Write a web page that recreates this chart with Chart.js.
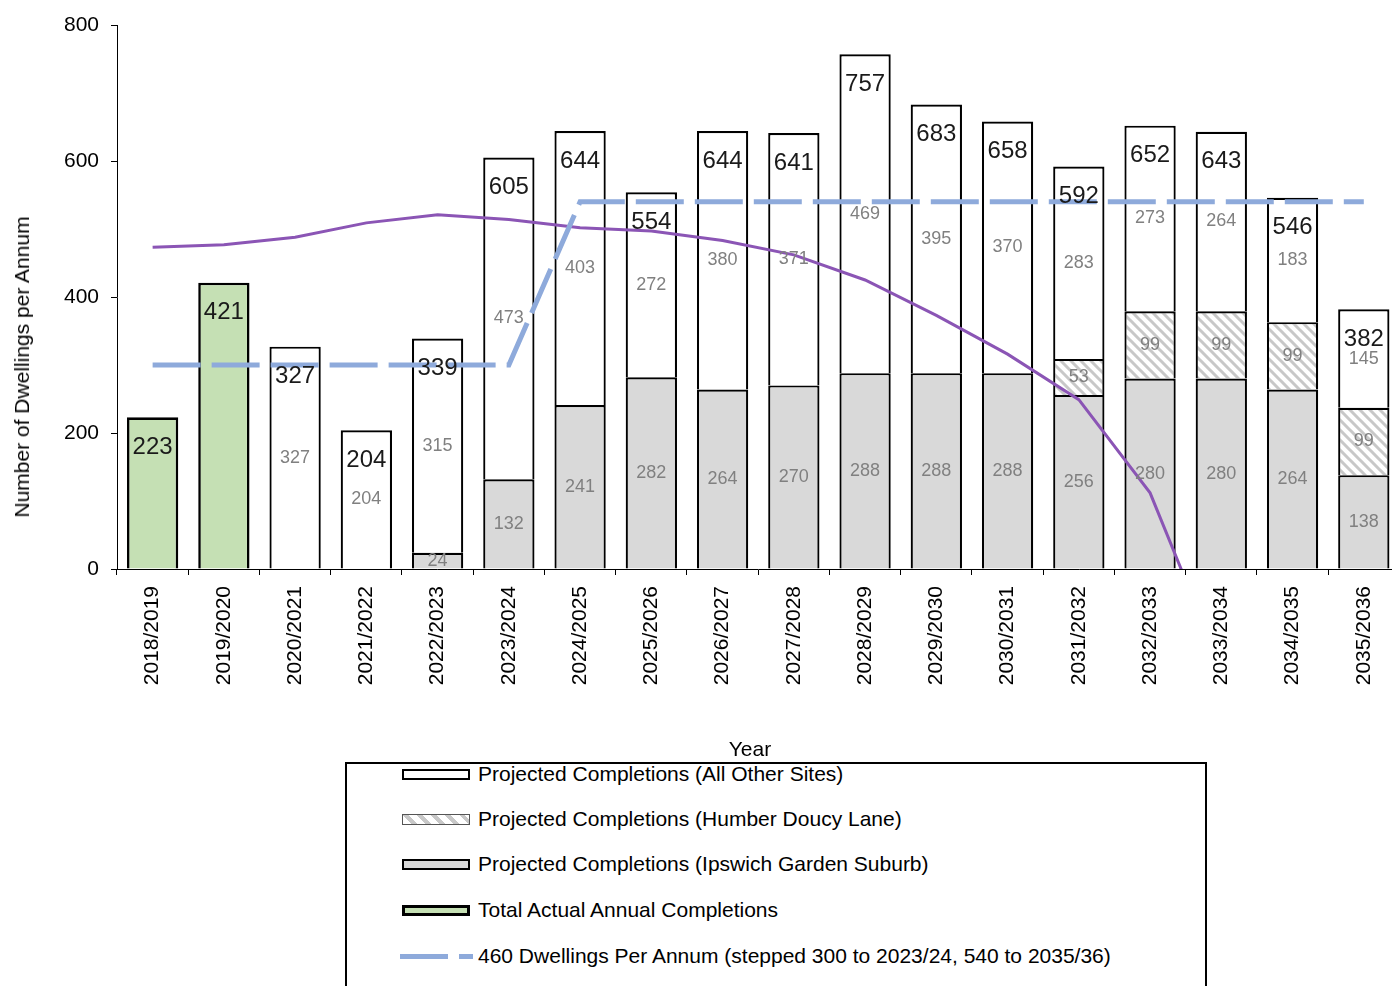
<!DOCTYPE html>
<html>
<head>
<meta charset="utf-8">
<script src="https://cdn.jsdelivr.net/npm/chart.js@4.4.1/dist/chart.umd.min.js"></script>
<style>
html,body{margin:0;padding:0;overflow:hidden;background:#fff;width:1392px;height:986px;}
#wrap{position:absolute;left:0;top:0;width:1400px;height:762px;}
#ytitle{position:absolute;left:22px;top:367px;transform:translate(-50%,-50%) rotate(-90deg);font:21px "Liberation Sans",Arial,sans-serif;white-space:nowrap;color:#000;}
#xtitle{position:absolute;left:750px;top:749px;transform:translate(-50%,-50%);font:21px "Liberation Sans",Arial,sans-serif;white-space:nowrap;color:#000;}
#legend{position:absolute;left:345px;top:762px;width:858px;height:260px;border:2px solid #000;border-bottom:none;}
.item{position:absolute;left:55px;height:24px;display:flex;align-items:center;font:21px "Liberation Sans",Arial,sans-serif;color:#000;white-space:nowrap;}
.sw{box-sizing:border-box;width:68px;height:11px;border:2px solid #000;margin-right:8px;flex:none;}
</style>
</head>
<body>
<div id="wrap"><canvas id="c" width="1400" height="762"></canvas></div>
<div id="ytitle">Number of Dwellings per Annum</div>
<div id="xtitle">Year</div>
<div id="legend"></div>
<script>
// ---- data ----
const categories = ['2018/2019','2019/2020','2020/2021','2021/2022','2022/2023','2023/2024','2024/2025','2025/2026','2026/2027','2027/2028','2028/2029','2029/2030','2030/2031','2031/2032','2032/2033','2033/2034','2034/2035','2035/2036'];
const ipswichGardenSuburb = [null,null,null,null,24,132,241,282,264,270,288,288,288,256,280,280,264,138];
const humberDoucyLane     = [null,null,null,null,null,null,null,null,null,null,null,null,null,53,99,99,99,99];
const allOtherSites       = [null,null,327,204,315,473,403,272,380,371,469,395,370,283,273,264,183,145];
const actualCompletions   = [223,421,null,null,null,null,null,null,null,null,null,null,null,null,null,null,null,null];
const requirement         = [300,300,300,300,300,300,540,540,540,540,540,540,540,540,540,540,540,540];
const trajectory          = [473,477,488,509,521,514,502,497,483,462,425,373,316,249,112,-145,null,null];
const yTicks = [0,200,400,600,800];
const seriesNames = {
  other: 'Projected Completions (All Other Sites)',
  humber: 'Projected Completions (Humber Doucy Lane)',
  ipswich: 'Projected Completions (Ipswich Garden Suburb)',
  actual: 'Total Actual Annual Completions',
  req: '460 Dwellings Per Annum (stepped 300 to 2023/24, 540 to 2035/36)',
  traj: 'Trajectory'
};

Chart.defaults.font.family = '"Liberation Sans", Arial, sans-serif';
Chart.defaults.color = '#000';

// hatch pattern
function makeHatch(){
  const s = 10, pc = document.createElement('canvas');
  pc.width = s; pc.height = s;
  const g = pc.getContext('2d');
  g.fillStyle = '#fff'; g.fillRect(0,0,s,s);
  g.strokeStyle = '#c8c8c8'; g.lineWidth = 3;
  g.beginPath();
  g.moveTo(-s,0); g.lineTo(s,2*s);
  g.moveTo(0,0); g.lineTo(s,s);
  g.moveTo(0,-s); g.lineTo(2*s,s);
  g.stroke();
  return document.getElementById('c').getContext('2d').createPattern(pc,'repeat');
}
const hatch = makeHatch();

const GRAY = '#d9d9d9', GREEN = '#c5e0b4', BLUE = '#8eaadb', PURPLE = '#8b55b5';
const segmentSets = [0,1,2];
const barSets = [0,1,2,3];

const labelPlugin = {
  id: 'barLabels',
  afterDatasetsDraw(chart){
    const ctx = chart.ctx, ys = chart.scales.y, xs = chart.scales.x;
    ctx.save();
    ctx.textAlign = 'center'; ctx.textBaseline = 'middle';
    ctx.font = '18px "Liberation Sans", Arial, sans-serif';
    ctx.fillStyle = '#808080';
    segmentSets.forEach(di => {
      const meta = chart.getDatasetMeta(di);
      const data = chart.data.datasets[di].data;
      meta.data.forEach((el,i) => {
        const v = data[i];
        if (v == null || v === 0) return;
        const p = el.getProps(['x','y','base'], true);
        ctx.fillText(String(v), p.x, (p.y + p.base)/2);
      });
    });
    ctx.font = '24px "Liberation Sans", Arial, sans-serif';
    ctx.fillStyle = '#1a1a1a';
    categories.forEach((c,i) => {
      let t = 0;
      barSets.forEach(di => { const v = chart.data.datasets[di].data[i]; if (v) t += v; });
      if (!t) return;
      ctx.fillText(String(t), xs.getPixelForValue(i), ys.getPixelForValue(t) + 30);
    });
    ctx.restore();
  }
};

const barCommon = {type:'bar', stack:'bars', order:1, borderColor:'#000', borderWidth:2.2, borderSkipped:'start', barPercentage:0.72, categoryPercentage:1.0};

const chart = new Chart(document.getElementById('c'), {
  data: {
    labels: categories,
    datasets: [
      Object.assign({}, barCommon, {label: seriesNames.ipswich, data: ipswichGardenSuburb, backgroundColor: GRAY}),
      Object.assign({}, barCommon, {label: seriesNames.humber, data: humberDoucyLane, backgroundColor: hatch}),
      Object.assign({}, barCommon, {label: seriesNames.other, data: allOtherSites, backgroundColor: '#ffffff'}),
      Object.assign({}, barCommon, {label: seriesNames.actual, data: actualCompletions, backgroundColor: GREEN, borderWidth:2.6}),
      {type:'line', stack:'req', order:0, label: seriesNames.req, data: requirement, borderColor: BLUE, borderWidth:5, borderDash:[48,11], borderCapStyle:'butt', pointRadius:0, tension:0, fill:false},
      {type:'line', stack:'traj', order:0, label: seriesNames.traj, data: trajectory, borderColor: PURPLE, borderWidth:3, pointRadius:0, tension:0, fill:false}
    ]
  },
  options: {
    responsive: false,
    animation: false,
    layout: {padding: {top:25, right:0, bottom:0, left:0}},
    plugins: {legend: {display:false}, tooltip: {enabled:false}},
    scales: {
      x: {
        stacked: true,
        grid: {display:true, drawOnChartArea:false, drawTicks:true, tickLength:6, color:'#000', offset:true},
        border: {display:true, color:'#000', width:1},
        ticks: {autoSkip:false, maxRotation:90, minRotation:90, padding:11, color:'#000', font:{size:21}},
        title: {display:false, text:'Year'},
        afterFit(s){ s.height = 193; }
      },
      y: {
        stacked: true, min: 0, max: 800,
        afterBuildTicks(s){ s.ticks = yTicks.map(v => ({value:v})); },
        grid: {drawOnChartArea:false, drawTicks:true, tickLength:6, color:'#000'},
        border: {display:true, color:'#000', width:1},
        ticks: {padding:12, color:'#000', font:{size:21}},
        afterFit(s){ s.width = 117; }
      }
    }
  },
  plugins: [labelPlugin]
});

// ---- HTML legend (built from dataset labels) ----
const legendRows = [
  {ds:2, css:'background:#fff;'},
  {ds:1, css:'background:repeating-linear-gradient(45deg,#fff 0 6px,#c8c8c8 6px 10px);border-color:#555;border-width:1.5px;'},
  {ds:0, css:'background:'+GRAY+';'},
  {ds:3, css:'background:'+GREEN+';border-width:3px;'},
  {ds:4, line:true}
];
const rowCenters = [10, 55, 100, 146, 192];
const leg = document.getElementById('legend');
legendRows.forEach((r,k) => {
  const it = document.createElement('div');
  it.className = 'item';
  it.style.top = (rowCenters[k] - 12) + 'px';
  const sw = document.createElement('div');
  if (r.line) {
    sw.style.cssText = 'width:73px;height:5px;margin-left:-2px;margin-right:5px;flex:none;background:linear-gradient(to right,'+BLUE+' 0 48px,transparent 48px 59px,'+BLUE+' 59px 73px);';
  } else {
    sw.className = 'sw';
    sw.style.cssText = r.css;
  }
  const tx = document.createElement('span');
  tx.textContent = chart.data.datasets[r.ds].label;
  it.appendChild(sw); it.appendChild(tx);
  leg.appendChild(it);
});
</script>
</body>
</html>
